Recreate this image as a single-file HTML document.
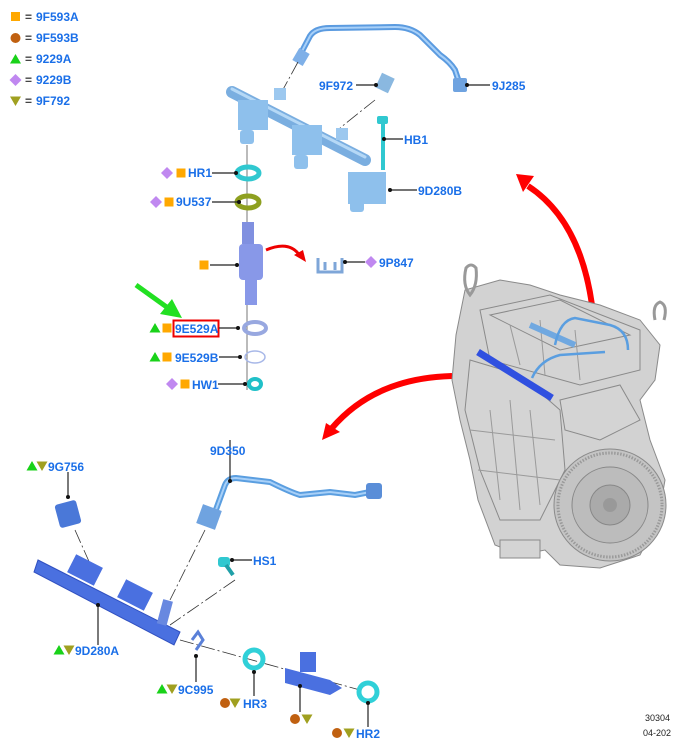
<!DOCTYPE html>
<html><head><meta charset="utf-8"><style>
html,body{margin:0;padding:0;background:#fff}
svg{display:block}
text{font-family:"Liberation Sans",Arial,sans-serif;font-weight:bold;font-size:12px;fill:#1a6fe8}
.k{fill:#222;font-weight:normal;font-size:9px}
.eq{fill:#444}
.ld{stroke:#222;stroke-width:1.2;fill:none}
.dash{stroke:#333;stroke-width:0.8;fill:none;stroke-dasharray:14 3 2 3}
.eg{stroke:#8a8a8a;stroke-width:1;fill:#d4d4d4}
.el{stroke:#9a9a9a;stroke-width:1;fill:none}
</style></head><body>
<svg width="674" height="742" viewBox="0 0 674 742" xmlns="http://www.w3.org/2000/svg">
<defs>
<g id="sq"><rect x="-4.5" y="-4.5" width="9" height="9" fill="#ffa800"/></g>
<g id="ci"><circle r="5" fill="#c06010"/></g>
<g id="tr"><polygon points="0,-5 5.5,4.5 -5.5,4.5" fill="#19d219"/></g>
<g id="di"><polygon points="0,-6 6,0 0,6 -6,0" fill="#c088f0"/></g>
<g id="tv"><polygon points="-5.5,-4.5 5.5,-4.5 0,5" fill="#a0a020"/></g>
</defs>

<!-- legend -->
<use href="#sq" x="15.5" y="16.5"/><text x="25" y="21" class="eq">=</text><text x="36" y="21">9F593A</text>
<use href="#ci" x="15.5" y="38"/><text x="25" y="42" class="eq">=</text><text x="36" y="42">9F593B</text>
<use href="#tr" x="15.5" y="59"/><text x="25" y="63" class="eq">=</text><text x="36" y="63">9229A</text>
<use href="#di" x="15.5" y="80"/><text x="25" y="84" class="eq">=</text><text x="36" y="84">9229B</text>
<use href="#tv" x="15.5" y="101"/><text x="25" y="105" class="eq">=</text><text x="36" y="105">9F792</text>

<!-- top fuel rail assembly -->
<path d="M300,55 L310,36 Q315,28 330,28 L395,27 Q410,27 420,35 L440,55 Q450,62 455,70 L460,85" stroke="#5b9be0" stroke-width="6" fill="none" stroke-linecap="round"/>
<path d="M300,55 L310,36 Q315,28 330,28 L395,27 Q410,27 420,35 L440,55 Q450,62 455,70 L460,85" stroke="#a8d0f8" stroke-width="2" fill="none"/>
<rect x="295" y="50" width="12" height="14" fill="#7fb0e8" transform="rotate(30 301 57)"/>
<rect x="453" y="78" width="14" height="14" rx="2" fill="#6fa3e0"/>
<line class="dash" x1="298" y1="62" x2="280" y2="95"/>
<line class="dash" x1="375" y1="100" x2="340" y2="128"/>
<path d="M232,92 L365,160" stroke="#7aaee0" stroke-width="12" stroke-linecap="round"/>
<path d="M232,89 L365,157" stroke="#b5d8f6" stroke-width="3" stroke-linecap="round"/>
<rect x="238" y="100" width="30" height="30" fill="#8ec0ec"/><rect x="240" y="130" width="14" height="14" rx="3" fill="#8ec0ec"/>
<rect x="292" y="125" width="30" height="30" fill="#8ec0ec"/><rect x="294" y="155" width="14" height="14" rx="3" fill="#8ec0ec"/>
<rect x="348" y="172" width="38" height="32" fill="#8ec0ec"/><rect x="350" y="200" width="14" height="12" rx="3" fill="#8ec0ec"/>
<rect x="274" y="88" width="12" height="12" fill="#9cc8ef"/>
<rect x="336" y="128" width="12" height="12" fill="#9cc8ef"/>
<rect x="378" y="75" width="14" height="16" fill="#8ab8e0" transform="rotate(25 385 83)"/>
<rect x="381" y="118" width="4" height="52" fill="#30c8d0"/><rect x="377" y="116" width="11" height="8" rx="2" fill="#30c8d0"/>

<line class="ld" x1="356" y1="85" x2="376" y2="85"/><circle cx="376" cy="85" r="2" fill="#111"/><text x="319" y="90">9F972</text>
<line class="ld" x1="467" y1="85" x2="490" y2="85"/><circle cx="467" cy="85" r="2" fill="#111"/><text x="492" y="90">9J285</text>
<line class="ld" x1="384" y1="139" x2="403" y2="139"/><circle cx="384" cy="139" r="2" fill="#111"/><text x="404" y="144">HB1</text>
<line class="ld" x1="390" y1="190" x2="417" y2="190"/><circle cx="390" cy="190" r="2" fill="#111"/><text x="418" y="195">9D280B</text>

<!-- injector stack -->
<line x1="247" y1="145" x2="247" y2="390" stroke="#555" stroke-width="0.8"/>
<ellipse cx="248" cy="173" rx="11" ry="6" fill="none" stroke="#30c8d0" stroke-width="5"/>
<ellipse cx="248" cy="202" rx="11" ry="6" fill="none" stroke="#8ea020" stroke-width="5"/>
<rect x="242" y="222" width="12" height="22" fill="#8090e0"/>
<rect x="239" y="244" width="24" height="36" rx="4" fill="#8898e8"/>
<rect x="245" y="280" width="12" height="25" fill="#8898e8"/>
<ellipse cx="255" cy="328" rx="11" ry="6" fill="none" stroke="#98a8e0" stroke-width="4"/>
<ellipse cx="255" cy="357" rx="10" ry="6" fill="none" stroke="#a8b8e8" stroke-width="1.5"/>
<ellipse cx="255" cy="384" rx="6" ry="5" fill="none" stroke="#20c0c8" stroke-width="4"/>

<use href="#di" x="167" y="173"/><use href="#sq" x="181" y="173"/><text x="188" y="177">HR1</text>
<line class="ld" x1="212" y1="173" x2="236" y2="173"/><circle cx="236" cy="173" r="2" fill="#111"/>
<use href="#di" x="156" y="202"/><use href="#sq" x="169" y="202"/><text x="176" y="206">9U537</text>
<line class="ld" x1="212" y1="202" x2="239" y2="202"/><circle cx="239" cy="202" r="2" fill="#111"/>
<use href="#sq" x="204" y="265"/>
<line class="ld" x1="210" y1="265" x2="237" y2="265"/><circle cx="237" cy="265" r="2" fill="#111"/>
<use href="#tr" x="155" y="328"/><use href="#sq" x="167" y="328"/>
<rect x="173.5" y="320.5" width="45" height="16" fill="none" stroke="#e00" stroke-width="2"/>
<text x="175" y="333">9E529A</text>
<line class="ld" x1="219" y1="328" x2="238" y2="328"/><circle cx="238" cy="328" r="2" fill="#111"/>
<use href="#tr" x="155" y="357"/><use href="#sq" x="167" y="357"/><text x="175" y="362">9E529B</text>
<line class="ld" x1="219" y1="357" x2="240" y2="357"/><circle cx="240" cy="357" r="2" fill="#111"/>
<use href="#di" x="172" y="384"/><use href="#sq" x="185" y="384"/><text x="192" y="389">HW1</text>
<line class="ld" x1="218" y1="384" x2="245" y2="384"/><circle cx="245" cy="384" r="2" fill="#111"/>

<!-- green arrow -->
<line x1="136" y1="285" x2="168" y2="308" stroke="#22e022" stroke-width="5"/>
<polygon points="182,318 160,314 172,299" fill="#22e022"/>

<!-- small red arrow + clip -->
<path d="M266,250 Q290,240 300,256" stroke="#e00" stroke-width="3" fill="none"/>
<polygon points="306,262 294,255 303,250" fill="#e00"/>
<path d="M318,258 L318,272 L342,272 L342,258 M325,262 L325,270 M335,262 L335,270" stroke="#7ea6d8" stroke-width="3" fill="none"/>
<line class="ld" x1="345" y1="262" x2="365" y2="262"/><circle cx="345" cy="262" r="2" fill="#111"/>
<use href="#di" x="371" y="262"/><text x="379" y="267">9P847</text>

<!-- big red arrows -->
<path d="M592,305 Q580,220 528,186" stroke="#f00" stroke-width="6" fill="none"/>
<polygon points="516,174 534,176 523,192" fill="#f00"/>
<path d="M452,376 Q375,378 332,428" stroke="#f00" stroke-width="6" fill="none"/>
<polygon points="322,440 326,423 340,432" fill="#f00"/>

<!-- engine -->
<g>
<path d="M465,290 L500,280 L530,285 L560,295 L600,305 L640,320 L660,345 L655,380 L640,400 L650,440 L665,480 L658,520 L640,555 L600,568 L560,565 L545,550 L520,555 L495,545 L478,500 L470,460 L460,420 L452,380 L456,335 Z" fill="#d2d2d2" stroke="#8a8a8a"/>
<path d="M480,310 L550,295 L640,330 L640,370 L580,385 L490,360 Z" class="eg" fill="#dcdcdc"/>
<path d="M490,315 L560,300 L630,335 L560,350 Z" class="eg" fill="#e6e6e6"/>
<path d="M470,360 L520,375 L560,410 L565,470 L540,520 L500,520 L480,470 L465,410 Z" class="eg" fill="#cfcfcf"/>
<path d="M560,400 L620,385 L640,420 L600,440 L565,430 Z" class="eg" fill="#d8d8d8"/>
<circle cx="610" cy="505" r="56" fill="#c4c4c4" stroke="#8a8a8a"/>
<circle cx="610" cy="505" r="52" fill="none" stroke="#9a9a9a" stroke-width="3" stroke-dasharray="1.5 1.5"/>
<circle cx="610" cy="505" r="38" fill="#bcbcbc" stroke="#888"/>
<circle cx="610" cy="505" r="20" fill="#aaaaaa" stroke="#888"/>
<circle cx="610" cy="505" r="7" fill="#999"/>
<line class="el" x1="490" y1="410" x2="500" y2="500"/><line class="el" x1="510" y1="400" x2="520" y2="510"/>
<line class="el" x1="530" y1="410" x2="540" y2="505"/><line class="el" x1="470" y1="430" x2="555" y2="440"/>
<line class="el" x1="478" y1="470" x2="560" y2="480"/><line class="el" x1="575" y1="330" x2="580" y2="380"/>
<line class="el" x1="510" y1="325" x2="520" y2="365"/><line class="el" x1="540" y1="320" x2="545" y2="375"/>
<rect x="500" y="540" width="40" height="18" class="eg" fill="#c8c8c8"/>
<path d="M478,352 L552,398" stroke="#3050e0" stroke-width="7"/>
<path d="M530,325 L575,345" stroke="#70a8e0" stroke-width="6"/>
<path d="M555,345 Q560,320 575,318 L610,325 Q628,330 628,350" stroke="#5a9ee0" stroke-width="2.5" fill="none"/>
<path d="M532,378 Q540,360 560,355 L605,352" stroke="#5a9ee0" stroke-width="2.5" fill="none"/>
<path d="M466,268 Q462,285 470,295 Q478,285 476,268 Q471,262 466,268 Z" fill="none" stroke="#999" stroke-width="3"/>
<path d="M655,320 Q652,305 660,302 Q668,305 664,320" fill="none" stroke="#999" stroke-width="3"/>
</g>

<!-- bottom assembly -->
<path d="M214,515 L225,485 Q228,478 236,478 L270,482 Q290,492 300,495 L330,492 L355,495 L370,492" stroke="#5a9ee0" stroke-width="6" fill="none" stroke-linecap="round"/>
<path d="M214,515 L225,485 Q228,478 236,478 L270,482 Q290,492 300,495 L330,492 L355,495 L370,492" stroke="#a8d0f8" stroke-width="2" fill="none"/>
<rect x="199" y="507" width="20" height="20" fill="#6fa3e0" transform="rotate(20 209 517)"/>
<rect x="366" y="483" width="16" height="16" rx="3" fill="#5a8ed8"/>
<line x1="230" y1="440" x2="230" y2="481" class="ld"/><circle cx="230" cy="481" r="2" fill="#111"/><text x="210" y="455">9D350</text>
<line class="dash" x1="205" y1="530" x2="170" y2="600"/>
<line class="dash" x1="235" y1="580" x2="170" y2="625"/>
<line class="dash" x1="75" y1="530" x2="95" y2="575"/>
<line class="dash" x1="180" y1="640" x2="360" y2="690"/>

<rect x="57" y="502" width="22" height="24" rx="3" fill="#4a78d8" transform="rotate(-15 68 514)"/>
<line class="ld" x1="68" y1="472" x2="68" y2="497"/><circle cx="68" cy="497" r="2" fill="#111"/>
<use href="#tr" x="32" y="466"/><use href="#tv" x="42" y="466"/><text x="48" y="471">9G756</text>

<path d="M38,560 L180,632 L174,645 L34,572 Z" fill="#4a70e0" stroke="#3050c0"/>
<rect x="70" y="560" width="30" height="20" fill="#4a70e0" transform="rotate(27 85 570)"/>
<rect x="120" y="585" width="30" height="20" fill="#4a70e0" transform="rotate(27 135 595)"/>
<rect x="160" y="600" width="10" height="25" fill="#6888e0" transform="rotate(15 165 612)"/>
<line class="ld" x1="98" y1="605" x2="98" y2="645"/><circle cx="98" cy="605" r="2" fill="#111"/>
<use href="#tr" x="59" y="650"/><use href="#tv" x="69" y="650"/><text x="75" y="655">9D280A</text>

<rect x="218" y="557" width="12" height="10" rx="3" fill="#30c8d0"/>
<line x1="226" y1="565" x2="233" y2="575" stroke="#20a0a8" stroke-width="4"/>
<line class="ld" x1="232" y1="560" x2="252" y2="560"/><circle cx="232" cy="560" r="2" fill="#111"/><text x="253" y="565">HS1</text>

<path d="M192,640 L198,632 L203,640 L196,650" stroke="#5a80d8" stroke-width="3" fill="none"/>
<line class="ld" x1="196" y1="656" x2="196" y2="682"/><circle cx="196" cy="656" r="2" fill="#111"/>
<use href="#tr" x="162" y="689"/><use href="#tv" x="172" y="689"/><text x="178" y="694">9C995</text>

<ellipse cx="254" cy="659" rx="9" ry="9" fill="none" stroke="#30d0d8" stroke-width="5"/>
<line class="ld" x1="254" y1="672" x2="254" y2="696"/><circle cx="254" cy="672" r="2" fill="#111"/>
<use href="#ci" x="225" y="703"/><use href="#tv" x="235" y="703"/><text x="243" y="708">HR3</text>

<path d="M285,668 L330,680 L342,688 L330,695 L285,683 Z" fill="#4a70e0"/>
<rect x="300" y="652" width="16" height="20" fill="#4a70e0"/>
<line class="ld" x1="300" y1="686" x2="300" y2="712"/><circle cx="300" cy="686" r="2" fill="#111"/>
<use href="#ci" x="295" y="719"/><use href="#tv" x="307" y="719"/>

<ellipse cx="368" cy="692" rx="9" ry="9" fill="none" stroke="#30d0d8" stroke-width="5"/>
<line class="ld" x1="368" y1="703" x2="368" y2="727"/><circle cx="368" cy="703" r="2" fill="#111"/>
<use href="#ci" x="337" y="733"/><use href="#tv" x="349" y="733"/><text x="356" y="738">HR2</text>

<text x="645" y="721" class="k">30304</text>
<text x="643" y="736" class="k">04-202</text>
</svg>
</body></html>
